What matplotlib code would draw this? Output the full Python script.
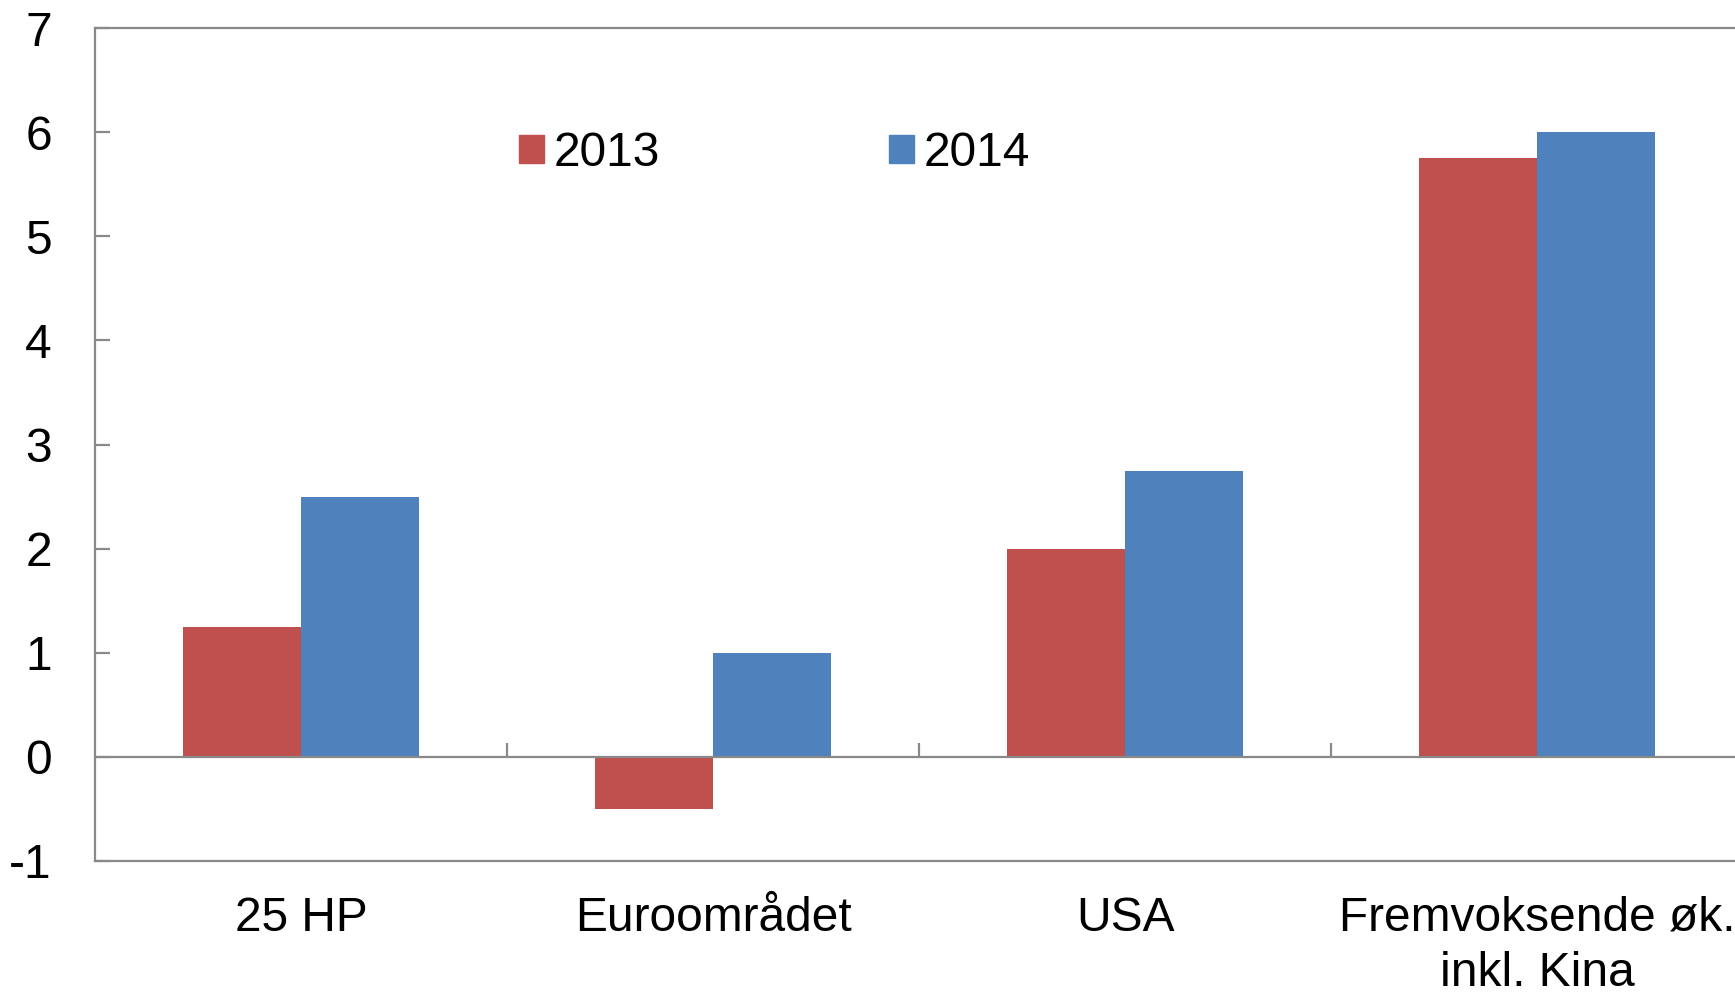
import matplotlib
matplotlib.use("Agg")
import matplotlib.pyplot as plt
import matplotlib.patches as mpatches
import numpy as np

categories = ["25 HP", "Euroområdet", "USA", "Fremvoksende øk.\ninkl. Kina"]
series_names = ["2013", "2014"]
values_2013 = [1.25, -0.5, 2.0, 5.75]
values_2014 = [2.5, 1.0, 2.75, 6.0]
colors = ["#C0504D", "#4F81BD"]
yticks = list(range(-1, 8))

plt.rcParams['font.family'] = ['Liberation Sans', 'DejaVu Sans']
FS = 34.5
W, H = 1735, 993
fig = plt.figure(figsize=(W / 100, H / 100), dpi=100)
ax = fig.add_axes([95 / W, 1 - 861 / H, (1743 - 95) / W, (861 - 28) / H])

x = np.arange(len(categories)) + 0.5
bw = 0.286
ax.bar(x - bw / 2, values_2013, width=bw, color=colors[0], zorder=2)
ax.bar(x + bw / 2, values_2014, width=bw, color=colors[1], zorder=2)

ax.set_xlim(0, len(categories))
ax.set_ylim(-1, 7)

spine_col = "#898989"
for s in ["left", "top", "bottom"]:
    ax.spines[s].set_color(spine_col)
    ax.spines[s].set_linewidth(1.6)
ax.spines["right"].set_visible(False)

ax.axhline(0, color=spine_col, lw=1.6, zorder=3)
bounds = np.arange(1, len(categories))
ax.vlines(bounds, 0, 0.135, color=spine_col, lw=1.6, zorder=3)

ax.set_yticks(yticks)
ax.set_yticklabels([str(v) for v in yticks], fontsize=FS)
ax.tick_params(axis='y', direction='in', length=10.8, width=1.6, color=spine_col, pad=31)

ax.set_xticks(x)
ax.set_xticklabels(categories, fontsize=FS, linespacing=1.28)
ax.tick_params(axis='x', length=0, pad=25)

handles = [mpatches.Patch(color=c) for c in colors]
leg = ax.legend(handles, series_names, ncol=2, fontsize=FS, frameon=False,
                loc='upper left', bbox_to_anchor=((519 - 95) / (1743 - 95), (861 - 131) / 833),
                handlelength=0.52, handleheight=0.52, handletextpad=0.2,
                columnspacing=4.78, borderpad=0, borderaxespad=0)

fig.savefig("out.png", dpi=100)
